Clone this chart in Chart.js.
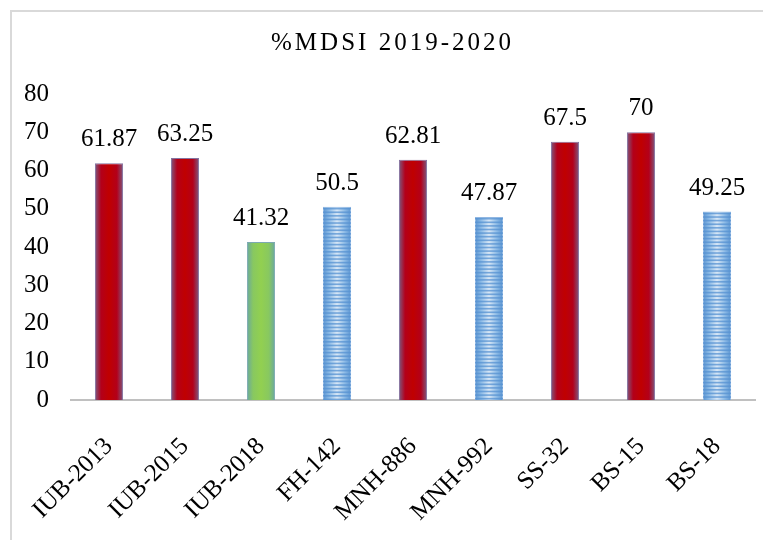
<!DOCTYPE html>
<html>
<head>
<meta charset="utf-8">
<script src="https://cdn.jsdelivr.net/npm/chart.js@4"></script>
<style>
  html, body { margin: 0; padding: 0; background: #fff; }
  #wrap { width: 763px; height: 540px; position: relative; }
</style>
</head>
<body>
<div id="wrap"><canvas id="mdsi"></canvas></div>
<script>
// genotypes and their %MDSI values (2019-2020)
var genotypes = ['IUB-2013', 'IUB-2015', 'IUB-2018', 'FH-142', 'MNH-886', 'MNH-992', 'SS-32', 'BS-15', 'BS-18'];
var mdsi = [61.87, 63.25, 41.32, 50.5, 62.81, 47.87, 67.5, 70, 49.25];
// which fill each bar gets in the original figure
var group = ['red', 'red', 'green', 'blue', 'red', 'blue', 'red', 'red', 'blue'];
var yTicks = [0, 10, 20, 30, 40, 50, 60, 70, 80];

var FONT = "'Liberation Serif', 'Times New Roman', serif";
var BAR_PCT = 0.37;

// gradient stops per fill group (edge -> centre -> edge)
var fills = {
  red: ['#7c5a80', '#b3001a', '#c00000', '#b3001a', '#7c5a80'],
  green: ['#6aa8a0', '#88c860', '#92d050', '#88c860', '#6aa8a0'],
  blue: ['#5b94d0', '#8dbbe6', '#d8e7f6', '#8dbbe6', '#5b94d0']
};
var borders = { red: 'rgba(120,100,150,0.9)', green: 'rgba(110,160,170,0.9)', blue: 'rgba(140,180,225,0.9)' };

function barFill(ctx) {
  var chart = ctx.chart;
  var g = group[ctx.dataIndex];
  var xs = chart.scales.x;
  if (!xs || !chart.chartArea) return fills[g][2];
  var cx = xs.getPixelForValue(ctx.dataIndex);
  var w = (xs.width / genotypes.length) * BAR_PCT;
  var grad = chart.ctx.createLinearGradient(cx - w / 2, 0, cx + w / 2, 0);
  var st = fills[g];
  grad.addColorStop(0, st[0]);
  grad.addColorStop(0.22, st[1]);
  grad.addColorStop(0.5, st[2]);
  grad.addColorStop(0.78, st[3]);
  grad.addColorStop(1, st[4]);
  return grad;
}

// light grey frame on the left and top edges
var framePlugin = {
  id: 'frame',
  beforeDraw: function(chart) {
    var c = chart.ctx;
    c.save();
    c.strokeStyle = '#d9d9d9';
    c.lineWidth = 2;
    c.beginPath();
    c.moveTo(11, 540);
    c.lineTo(11, 11);
    c.lineTo(763, 11);
    c.stroke();
    c.restore();
  }
};

// horizontal stripes on the blue bars
var stripePlugin = {
  id: 'stripes',
  afterDatasetsDraw: function(chart) {
    var c = chart.ctx;
    var meta = chart.getDatasetMeta(0);
    meta.data.forEach(function(bar, i) {
      if (group[i] !== 'blue') return;
      var left = bar.x - bar.width / 2;
      var top = bar.y;
      var h = bar.base - bar.y;
      c.save();
      c.beginPath();
      c.rect(left, top, bar.width, h);
      c.clip();
      c.fillStyle = 'rgba(85,145,210,0.75)';
      for (var y = top + 1; y < bar.base; y += 3.6) {
        c.fillRect(left, y, bar.width, 1.6);
      }
      c.restore();
    });
  }
};

// value labels above every bar
var valuePlugin = {
  id: 'values',
  afterDatasetsDraw: function(chart) {
    var c = chart.ctx;
    var meta = chart.getDatasetMeta(0);
    c.save();
    c.font = '25px ' + FONT;
    c.fillStyle = '#000';
    c.textAlign = 'center';
    c.textBaseline = 'alphabetic';
    meta.data.forEach(function(bar, i) {
      c.fillText(String(mdsi[i]), bar.x, bar.y - 17);
    });
    c.restore();
  }
};

// spaced-out title text, nudged a little right like the original
var titleSpacing = {
  id: 'titleSpacing',
  afterInit: function(chart) {
    var tb = chart.titleBlock;
    if (!tb) return;
    var orig = tb.draw;
    tb.draw = function() {
      var c = this.ctx;
      c.save();
      c.translate(9, 0);
      c.letterSpacing = '3px';
      orig.apply(this, arguments);
      c.restore();
    };
  }
};

var chart = new Chart('mdsi', {
  type: 'bar',
  data: {
    labels: genotypes,
    datasets: [{
      data: mdsi,
      backgroundColor: barFill,
      borderColor: function(ctx) { return borders[group[ctx.dataIndex]]; },
      borderWidth: 1,
      barPercentage: BAR_PCT,
      categoryPercentage: 1
    }]
  },
  options: {
    responsive: true,
    maintainAspectRatio: false,
    animation: false,
    layout: { padding: { left: 12, right: 8, top: 10, bottom: 0 } },
    plugins: {
      legend: { display: false },
      tooltip: { enabled: false },
      title: {
        display: true,
        text: '%MDSI 2019-2020',
        color: '#000',
        font: { family: FONT, size: 25, weight: 'normal' },
        padding: { top: 18, bottom: 36 }
      }
    },
    scales: {
      x: {
        grid: { display: false },
        border: { display: true, color: '#c0c0c0', width: 2 },
        ticks: {
          color: '#000',
          font: { family: FONT, size: 25 },
          minRotation: 45,
          maxRotation: 45,
          padding: 24
        },
        afterFit: function(s) { s.height = 140; }
      },
      y: {
        min: 0,
        max: 80,
        grid: { display: false, drawTicks: false },
        border: { display: false },
        afterBuildTicks: function(s) { s.ticks = yTicks.map(function(v) { return { value: v }; }); },
        ticks: {
          color: '#000',
          font: { family: FONT, size: 25 },
          padding: 22
        },
        afterFit: function(s) { s.width = 59; }
      }
    }
  },
  plugins: [framePlugin, stripePlugin, valuePlugin, titleSpacing]
});
</script>
</body>
</html>
